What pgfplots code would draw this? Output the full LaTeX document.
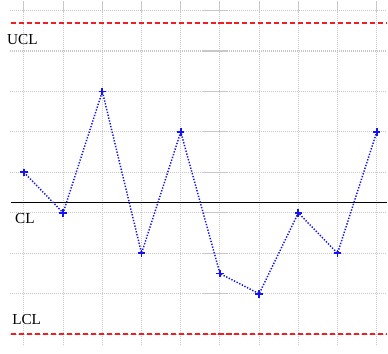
\documentclass[border=0pt]{standalone}
\usepackage{pgfplots}
\pgfplotsset{compat=1.18}
\usepackage{fontspec}
\setmainfont{Liberation Serif}
\definecolor{gridgray}{RGB}{200,200,200}
\definecolor{ptblue}{RGB}{20,20,240}
\definecolor{limred}{RGB}{240,30,30}

\begin{document}
\begin{tikzpicture}
\begin{axis}[
  scale only axis,
  width=291bp, height=258.75bp,
  xmin=-0.611, xmax=9.262,
  ymin=-0.257, ymax=8.247,
  axis line style={draw=none},
  xtick={0,...,9}, ytick=\empty,
  xticklabels={}, major tick length=0pt,
  xmajorgrids,
  grid style={gridgray, line width=0.8bp, dash pattern=on 0.8bp off 0.7bp},
  clip=false,
]
% horizontal grid lines, starting a little right of the left edge
\foreach \k in {0,...,8}{
  \edef\tmp{\noexpand\draw[gridgray, line width=0.8bp, dash pattern=on 0.8bp off 0.7bp]
    (axis cs:-0.356,\k) -- (axis cs:9.262,\k);}
  \tmp
}
% upper control limit
\addplot[draw=limred, line width=1.5bp, dash pattern=on 3.8bp off 2.2bp]
  coordinates {(-0.33,7.68) (9.262,7.68)};
% lower control limit
\addplot[draw=limred, line width=1.5bp, dash pattern=on 3.8bp off 2.2bp]
  coordinates {(-0.33,0) (9.262,0)};
% centre line (mean of the samples)
\addplot[draw=black, line width=1.1bp]
  coordinates {(-0.33,3.25) (9.262,3.25)};
% samples
\addplot[draw=ptblue, line width=1.1bp, dash pattern=on 1bp off 1.2bp,
  mark=+, mark size=2.8bp, mark options={solid, draw=ptblue, line width=1.4bp}]
  coordinates {(0,4) (1,3) (2,6) (3,2) (4,5) (5,1.5) (6,1) (7,3) (8,2) (9,5)};
% limit labels
\node[anchor=base west, inner sep=0pt, font=\fontsize{11.5}{12}\selectfont]
  at (axis cs:-0.433,7.16) {UCL};
\node[anchor=base west, inner sep=0pt, font=\fontsize{11.5}{12}\selectfont]
  at (axis cs:-0.229,2.725) {CL};
\node[anchor=base west, inner sep=0pt, font=\fontsize{11.5}{12}\selectfont]
  at (axis cs:-0.305,0.236) {LCL};
\end{axis}
\end{tikzpicture}
\end{document}
